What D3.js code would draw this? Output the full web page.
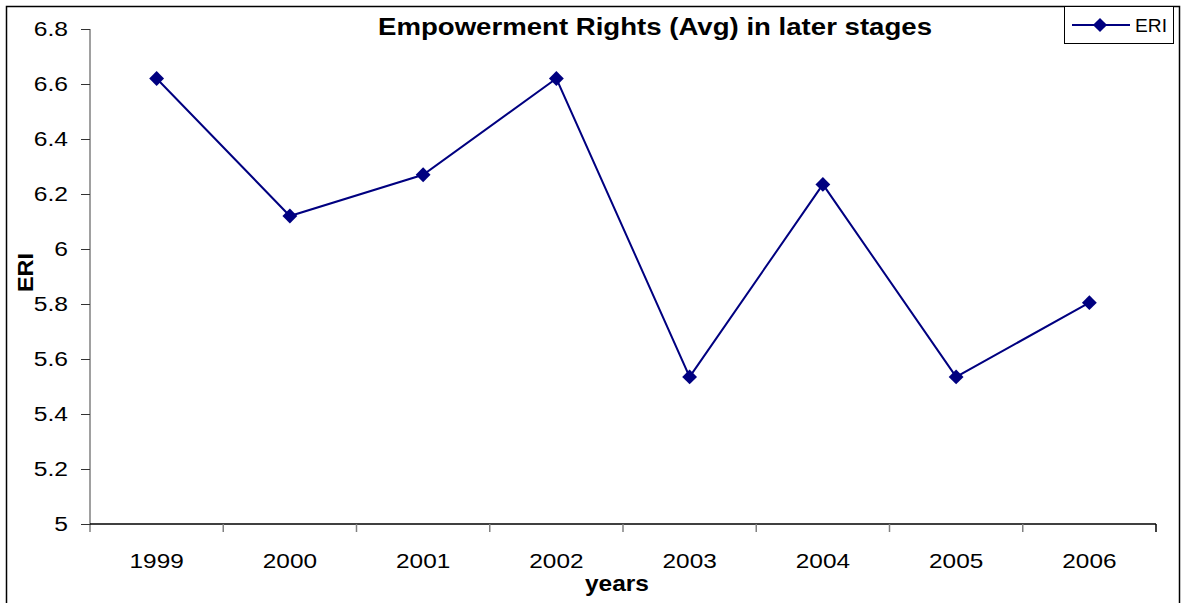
<!DOCTYPE html>
<html><head><meta charset="utf-8">
<script src="https://cdn.jsdelivr.net/npm/d3@7"></script>
<style>body{margin:0;background:#fff;}svg{display:block;font-family:"Liberation Sans",Arial,sans-serif;}</style>
</head><body>
<svg id="c" width="1185" height="603"></svg>
<script>
const years = ["1999","2000","2001","2002","2003","2004","2005","2006"];
const eri = [6.62, 6.12, 6.27, 6.62, 5.535, 6.235, 5.535, 5.805];
const yTicks = [5, 5.2, 5.4, 5.6, 5.8, 6, 6.2, 6.4, 6.6, 6.8];

const svg = d3.select("#c");
const L = 90, R = 1156, T = 29, B = 524;
const x = d3.scaleBand().domain(years).range([L, R]);
const y = d3.scaleLinear().domain([5, 6.8]).range([B, T]);
const navy = "#000080";
const FF = "Liberation Sans, Arial, sans-serif";

function stretch(sel, k) {
  sel.each(function () {
    const w = this.getComputedTextLength();
    d3.select(this).attr("textLength", w * k).attr("lengthAdjust", "spacingAndGlyphs");
  });
}

// outer border
svg.append("rect").attr("x", 6.5).attr("y", 6.5).attr("width", 1173).attr("height", 610)
  .attr("fill", "none").attr("stroke", "#000").attr("stroke-width", 1.5);

// y axis
const ya = svg.append("g").attr("transform", `translate(${L},0)`)
  .call(d3.axisLeft(y).tickValues(yTicks).tickSize(9).tickPadding(13).tickFormat(d3.format("~g")));
ya.select(".domain").attr("stroke", "#808080").attr("stroke-width", 1.5).attr("d", `M0,${T}V${B + 8}`);
ya.selectAll(".tick line").attr("stroke", "#333");
ya.selectAll(".tick text").attr("font-size", 20.5).attr("fill", "#000").attr("font-family", FF).attr("dy", "0.3em");
stretch(ya.selectAll(".tick text"), 1.2);

// x axis
const xa = svg.append("g").attr("transform", `translate(0,${B})`)
  .call(d3.axisBottom(x).tickSize(0).tickPadding(0));
xa.select(".domain").attr("stroke", "#000").attr("stroke-width", 1.5).attr("d", `M${L},0H${R}`);
xa.selectAll(".tick text").attr("font-size", 21).attr("fill", "#000").attr("y", 44).attr("dy", 0)
  .attr("font-family", FF);
stretch(xa.selectAll(".tick text"), 1.16);
// category boundary ticks
const bounds = years.map(d => x(d)).concat([R]);
svg.append("g").selectAll("line").data(bounds.slice(1)).join("line")
  .attr("x1", d => d).attr("x2", d => d).attr("y1", B).attr("y2", B + 8)
  .attr("stroke", (d, i) => i === bounds.length - 2 ? "#000" : "#808080").attr("stroke-width", 1.5);

// line
const line = d3.line().x((d, i) => x(years[i]) + x.bandwidth() / 2).y(d => y(d));
svg.append("path").datum(eri).attr("d", line).attr("fill", "none").attr("stroke", navy).attr("stroke-width", 2);
svg.append("g").selectAll("path").data(eri).join("path")
  .attr("d", d3.symbol(d3.symbolSquare, 110)())
  .attr("transform", (d, i) => `translate(${x(years[i]) + x.bandwidth() / 2},${y(d)}) rotate(45)`)
  .attr("fill", navy);

// title
svg.append("text").attr("x", 655).attr("y", 35).attr("text-anchor", "middle")
  .attr("font-size", 23).attr("font-weight", "bold").attr("textLength", 554).attr("lengthAdjust", "spacingAndGlyphs")
  .text("Empowerment Rights (Avg) in later stages");

// axis titles
svg.append("text").attr("x", 617).attr("y", 591).attr("text-anchor", "middle")
  .attr("font-size", 22).attr("font-weight", "bold").attr("textLength", 64).attr("lengthAdjust", "spacingAndGlyphs").text("years");
svg.append("text").attr("transform", "translate(33,272.5) rotate(-90)").attr("text-anchor", "middle")
  .attr("font-size", 22).attr("font-weight", "bold").attr("textLength", 39).attr("lengthAdjust", "spacingAndGlyphs").text("ERI");

// legend
const lg = svg.append("g");
lg.append("rect").attr("x", 1064.5).attr("y", 6.5).attr("width", 109).attr("height", 37)
  .attr("fill", "#fff").attr("stroke", "#000").attr("stroke-width", 1);
lg.append("line").attr("x1", 1072).attr("x2", 1130).attr("y1", 25).attr("y2", 25).attr("stroke", navy).attr("stroke-width", 2);
lg.append("path").attr("d", d3.symbol(d3.symbolSquare, 100)()).attr("transform", "translate(1100,25) rotate(45)").attr("fill", navy);
lg.append("text").attr("x", 1135).attr("y", 32).attr("font-size", 19).attr("textLength", 32).attr("lengthAdjust", "spacingAndGlyphs").text("ERI");
</script>
</body></html>
